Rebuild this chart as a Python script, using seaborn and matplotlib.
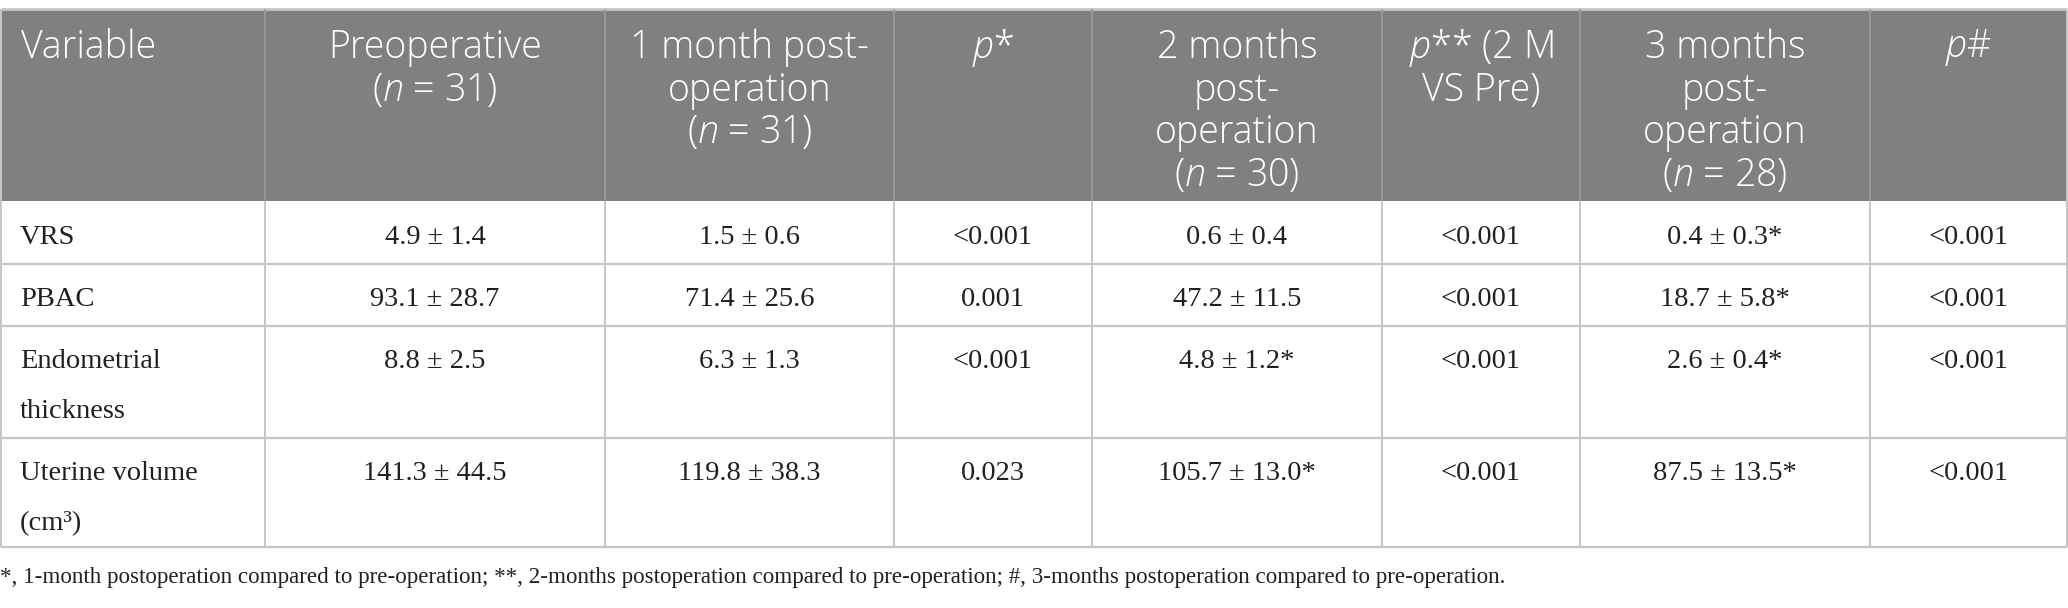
import numpy as np
import pandas as pd
import matplotlib
matplotlib.use('Agg')
import matplotlib.pyplot as plt
from matplotlib.patches import Rectangle
import seaborn as sns

sns.set_theme(style='white')
plt.rcParams['mathtext.fontset'] = 'custom'
plt.rcParams['mathtext.rm'] = 'Open Sans:light'
plt.rcParams['mathtext.it'] = 'Open Sans:italic:light'

# table content
headers = [
    ['Variable'],
    ['Preoperative', '($n$ = 31)'],
    ['1 month post-', 'operation', '($n$ = 31)'],
    ['$p$*'],
    ['2 months', 'post-', 'operation', '($n$ = 30)'],
    ['$p$** (2 M', 'VS Pre)'],
    ['3 months', 'post-', 'operation', '($n$ = 28)'],
    ['$p$#'],
]
variables = [['VRS'], ['PBAC'], ['Endometrial', 'thickness'], ['Uterine volume', '(cm³)']]
pre_mean = [4.9, 93.1, 8.8, 141.3]
pre_sd = [1.4, 28.7, 2.5, 44.5]
m1_mean = [1.5, 71.4, 6.3, 119.8]
m1_sd = [0.6, 25.6, 1.3, 38.3]
p1 = ['<0.001', '0.001', '<0.001', '0.023']
m2_mean = [0.6, 47.2, 4.8, 105.7]
m2_sd = [0.4, 11.5, 1.2, 13.0]
m2_star = [False, False, True, True]
p2 = ['<0.001', '<0.001', '<0.001', '<0.001']
m3_mean = [0.4, 18.7, 2.6, 87.5]
m3_sd = [0.3, 5.8, 0.4, 13.5]
m3_star = [True, True, True, True]
p3 = ['<0.001', '<0.001', '<0.001', '<0.001']
footnote = ('*, 1-month postoperation compared to pre-operation; **, 2-months postoperation '
            'compared to pre-operation; #, 3-months postoperation compared to pre-operation.')


def fmt(m, s, star=False):
    return f'{m:.1f} ± {s:.1f}' + ('*' if star else '')


df = pd.DataFrame({
    'pre': [fmt(m, s) for m, s in zip(pre_mean, pre_sd)],
    'm1': [fmt(m, s) for m, s in zip(m1_mean, m1_sd)],
    'p1': p1,
    'm2': [fmt(m, s, t) for m, s, t in zip(m2_mean, m2_sd, m2_star)],
    'p2': p2,
    'm3': [fmt(m, s, t) for m, s, t in zip(m3_mean, m3_sd, m3_star)],
    'p3': p3,
})

# layout (pixels)
W, H = 2068, 608
col_edges = [1, 265, 605, 894, 1092, 1382, 1580, 1870, 2067]
table_top, head_bot = 9, 201
row_edges = [201, 264, 326, 438, 547]
HEAD_BG = '#808080'
GRID = '#c6c6c6'
HEAD_GRID = '#9c9c9c'
TXT = '#231f20'

fig = plt.figure(figsize=(W / 100, H / 100), dpi=100)
ax = fig.add_axes([0, 0, 1, 1])
ax.set_xlim(0, W)
ax.set_ylim(H, 0)
ax.axis('off')

# header block
ax.add_patch(Rectangle((col_edges[0], table_top), col_edges[-1] - col_edges[0],
                       head_bot - table_top, facecolor=HEAD_BG, edgecolor='none'))
ax.hlines(table_top, col_edges[0], col_edges[-1], color=GRID, lw=2)
ax.vlines(col_edges[1:-1], table_top, head_bot, color=HEAD_GRID, lw=1.2)

# body grid
ax.hlines(row_edges[1:], col_edges[0], col_edges[-1], color=GRID, lw=1.6)
ax.vlines(col_edges, head_bot, row_edges[-1], color=GRID, lw=1.4)
ax.vlines([col_edges[0], col_edges[-1]], table_top, head_bot, color=GRID, lw=1.4)

# header text
head_font = dict(family='Open Sans', size=27, color='white', weight='light')
for j, lines in enumerate(headers):
    for k, line in enumerate(lines):
        y = table_top + 39 + k * 42.5
        if j == 0:
            ax.text(col_edges[0] + 20, y, line, ha='left', va='center', **head_font)
        else:
            xc = (col_edges[j] + col_edges[j + 1]) / 2
            ax.text(xc, y, line, ha='center', va='center', **head_font)

# body text
body_font = dict(family='Liberation Serif', size=20.5, color=TXT)
for i in range(len(variables)):
    y0 = row_edges[i] + 36
    for k, line in enumerate(variables[i]):
        ax.text(col_edges[0] + 19, y0 + k * 50, line, ha='left', va='center', **body_font)
    for j, col in enumerate(df.columns):
        xc = (col_edges[j + 1] + col_edges[j + 2]) / 2
        ax.text(xc, y0, df.loc[i, col], ha='center', va='center', **body_font)

ax.text(0, 577, footnote, ha='left', va='center', family='Liberation Serif', size=16.6, color=TXT)

fig.savefig('out.png', dpi=100)
